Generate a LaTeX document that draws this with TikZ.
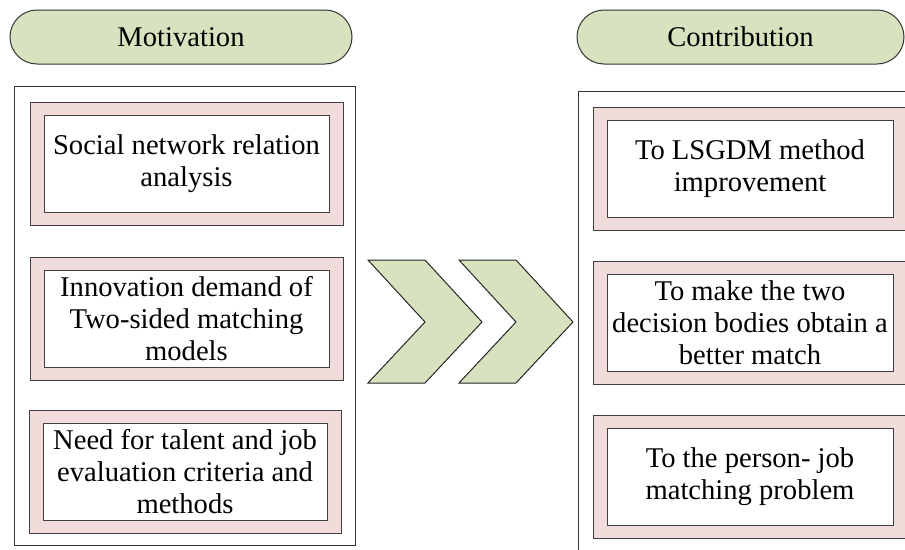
\documentclass[tikz,border=0pt]{standalone}
\usepackage{fontspec}
\setmainfont{Liberation Serif}
\usepackage{xcolor}
\usepackage{tikz}
\usetikzlibrary{shapes,positioning}
\definecolor{leaf}{RGB}{215,227,191}
\definecolor{blush}{RGB}{242,220,219}

\begin{document}
\begin{tikzpicture}[x=1pt,y=-1pt,line width=1pt,
  nodes={font=\fontsize{28.6}{32}\selectfont,inner sep=0pt,align=center},
  header/.style={draw=black!80,fill=leaf,rounded corners=27pt,minimum height=54pt},
  panel/.style={draw=black!80,fill=white},
  outer/.style={draw=black!75,fill=blush,minimum width=313pt,minimum height=123pt},
  inner/.style={draw=black!75,fill=white,minimum width=285pt,minimum height=97pt},
  chev/.style={draw=black!85,fill=leaf}]
 \useasboundingbox (0,0) rectangle (905,549);
 \clip (0,0) rectangle (905,549);

 % headers
 \node[header,minimum width=342pt] (mot) at (181,37) {Motivation};
 \node[header,minimum width=327pt] (con) at (740.5,37) {Contribution};

 % frames
 \node[panel,minimum width=341pt,minimum height=459pt] (lp) at (184.5,315.5) {};
 \node[panel,minimum width=342pt,minimum height=479pt] (rp) at (749,330.5) {};

 % motivation items
 \node[outer] (m1o) at (186.5,164) {};
 \node[inner] (m1) at (m1o) {Social network relation\\analysis};
 \node[outer] (m2o) at (186.5,318.5) {};
 \node[inner] (m2) at (m2o) {Innovation demand of\\Two-sided matching\\models};
 \node[outer,minimum width=312pt] (m3o) at (185,471.5) {};
 \node[inner,minimum width=284pt] (m3) at (m3o) {Need for talent and job\\evaluation criteria and\\methods};

 % contribution items
 \node[outer,minimum width=314pt] (c1o) at (750,168.5) {};
 \node[inner,minimum width=286pt] (c1) at (c1o) {To LSGDM method\\improvement};
 \node[outer,minimum width=314pt] (c2o) at (750,323) {};
 \node[inner,minimum width=286pt] (c2) at (c2o) {To make the two\\decision bodies obtain a\\better match};
 \node[outer,minimum width=314pt] (c3o) at (750,476.5) {};
 \node[inner,minimum width=286pt] (c3) at (c3o) {To the person- job\\matching problem};

 % chevrons
 \foreach \dx in {0,91}
  \draw[chev,xshift=\dx] (368,260) -- (425,260) -- (482,322) -- (425,383)
    -- (368,383) -- (425,322) -- cycle;
\end{tikzpicture}
\end{document}
